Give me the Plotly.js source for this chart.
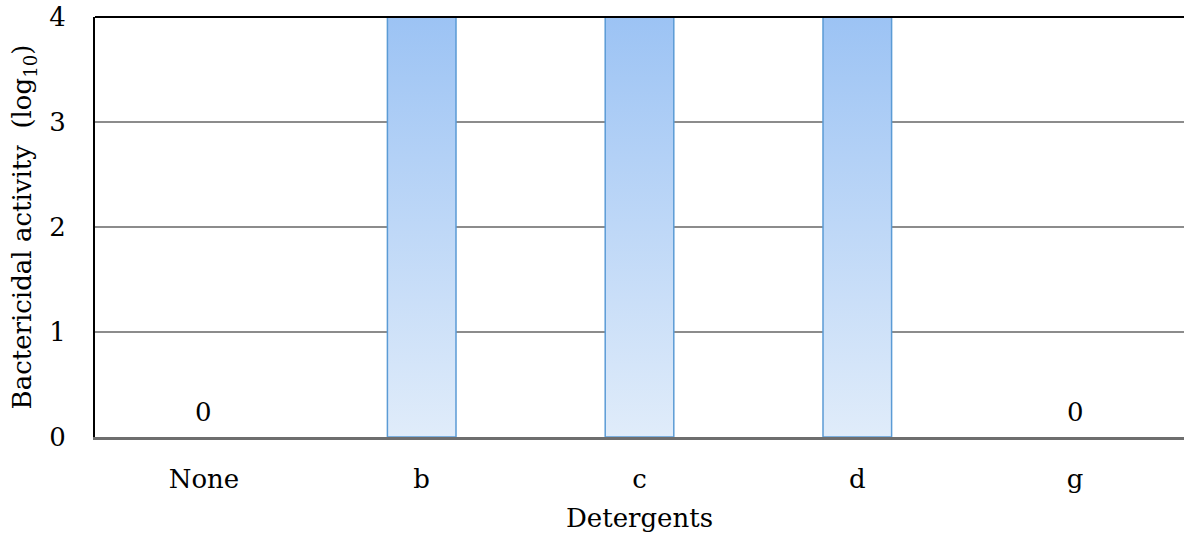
<!DOCTYPE html>
<html>
<head>
<meta charset="utf-8">
<script src="https://cdn.plot.ly/plotly-3.0.1.min.js"></script>
<style>
  html, body { margin: 0; padding: 0; background: #fff; }
  #chart { width: 1184px; height: 538px; }
</style>
</head>
<body>
<div id="chart"></div>
<script>
// Bactericidal activity (log10 reduction) per detergent
const detergents = ['None', 'b', 'c', 'd', 'g'];
const activity = [0, 4, 4, 4, 0];

const FONT = 'DejaVu Serif, Liberation Serif, serif';
const SIZE = 26;

const bars = {
  type: 'bar',
  x: detergents,
  y: activity,
  width: 0.315,
  marker: {
    color: '#bcd6f6',
    // no outline on empty bars, so nothing sits on the baseline
    line: { color: '#5b9bd5', width: activity.map(v => (v === 0 ? 0 : 1.5)) }
  },
  hoverinfo: 'x+y',
  cliponaxis: false
};

// value labels for zero-height bars
const zeroLabels = detergents
  .map((d, i) => ({ d, v: activity[i] }))
  .filter(p => p.v === 0)
  .map(p => ({
    x: p.d, y: p.v, xref: 'x', yref: 'y',
    text: String(p.v), showarrow: false, yshift: 25,
    font: { family: FONT, size: SIZE, color: '#000' }
  }));

const layout = {
  width: 1184,
  height: 538,
  margin: { l: 95, r: 0, t: 17, b: 101 },
  paper_bgcolor: '#fff',
  plot_bgcolor: '#fff',
  showlegend: false,
  font: { family: FONT, size: SIZE, color: '#000' },
  xaxis: {
    type: 'category',
    showgrid: false,
    zeroline: false,
    showline: true,
    linecolor: '#6e6e6e',
    linewidth: 2.5,
    layer: 'above traces',
    ticks: '',
    ticklabelstandoff: 17,
    tickfont: { family: FONT, size: SIZE },
    title: { text: 'Detergents', font: { family: FONT, size: SIZE }, standoff: 16 }
  },
  yaxis: {
    range: [0, 4],
    dtick: 1,
    showgrid: true,
    gridcolor: '#8c8c8c',
    gridwidth: 1.5,
    zeroline: false,
    showline: true,
    linecolor: '#000',
    linewidth: 2,
    ticks: '',
    ticklabelstandoff: 22,
    tickfont: { family: FONT, size: SIZE },
    title: {
      text: 'Bactericidal activity\u00a0\u00a0(log<sub>10</sub>)',
      font: { family: FONT, size: SIZE },
      standoff: 10
    }
  },
  shapes: [{
    type: 'line', xref: 'paper', yref: 'paper',
    x0: 0, x1: 1, y0: 1, y1: 1,
    line: { color: '#000', width: 2 }
  }],
  annotations: zeroLabels
};

Plotly.newPlot('chart', [bars], layout, { displayModeBar: false, staticPlot: true })
  .then(gd => {
    // vertical gradient fill for the bars
    const svgNS = 'http://www.w3.org/2000/svg';
    const svg = gd.querySelector('svg.main-svg');
    let defs = svg.querySelector('defs');
    if (!defs) { defs = document.createElementNS(svgNS, 'defs'); svg.prepend(defs); }
    const grad = document.createElementNS(svgNS, 'linearGradient');
    grad.setAttribute('id', 'barGradient');
    grad.setAttribute('x1', '0'); grad.setAttribute('y1', '0');
    grad.setAttribute('x2', '0'); grad.setAttribute('y2', '1');
    [['0', '#9cc3f4'], ['1', '#e0ecfa']].forEach(([o, c]) => {
      const s = document.createElementNS(svgNS, 'stop');
      s.setAttribute('offset', o);
      s.setAttribute('stop-color', c);
      grad.appendChild(s);
    });
    defs.appendChild(grad);
    gd.querySelectorAll('.trace.bars .point path').forEach(p => {
      p.style.fill = 'url(#barGradient)';
      p.style.fillOpacity = 1;
    });
  });
</script>
</body>
</html>
